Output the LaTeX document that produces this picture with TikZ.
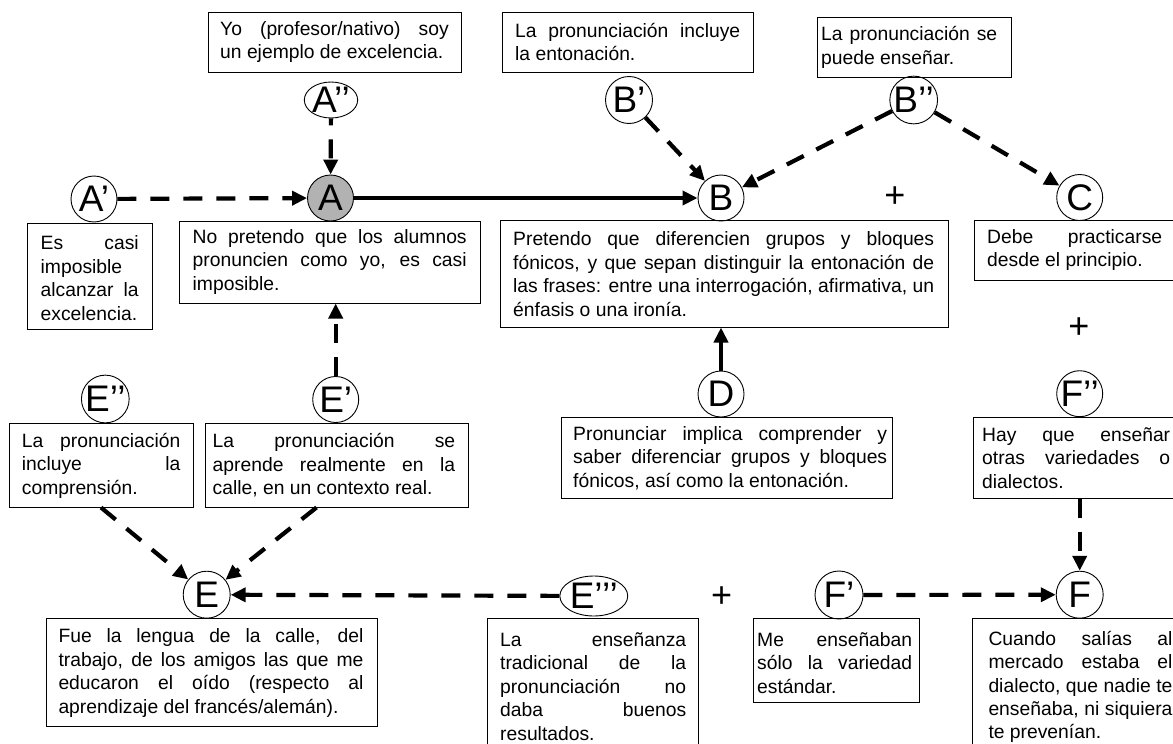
\documentclass[tikz,border=0pt]{standalone}
\usepackage{fontspec}
\setmainfont{Liberation Sans}
\usetikzlibrary{arrows.meta,shapes.geometric}
\setlength\parindent{0pt}
\setlength\parskip{0pt}
% one justified line / one line at natural width
\newcommand\jl[1]{\hbox to\hsize{#1}}
\newcommand\lf[1]{\hbox{#1}}
\newcommand\bodyfont{\fontsize{19.3}{23.4}\selectfont}
\newcommand\letterfont{\fontsize{37}{37}\selectfont}
\newcommand\plusfont{\fontsize{36}{36}\selectfont}
% framed text: name, x1, y1, x2, y2, text left, text width, text centre y, lines
\newcommand\tbox[9]{%
  \node[frame, minimum width={#4-#2}, minimum height={#5-#3}] (b#1) at ({(#2+#4)/2},{(#3+#5)/2}) {};
  \node[txt, anchor=west] (t#1) at (#6,#8) {\vbox{\hsize=#7pt #9}};}
\tikzset{
  frame/.style={draw, line width=1pt, inner sep=0pt},
  txt/.style={inner sep=0pt, font=\bodyfont},
  bub/.style={circle, draw, line width=0.9pt, minimum size=46pt, inner sep=0pt, font=\letterfont},
  oval/.style={ellipse, draw, line width=0.9pt, inner sep=0pt, font=\letterfont},
  conn/.style={line width=4.2pt, -{Triangle[length=15pt,width=14pt]}},
  dconn/.style={conn, dash pattern=on 19pt off 14pt},
  plus/.style={font=\plusfont, inner sep=0pt}
}
\begin{document}
\begin{tikzpicture}[x=1pt, y=-1pt]
\useasboundingbox (0,0) rectangle (1173,744);

% statements
\tbox{App}{208}{12}{461}{72}{220}{228.5}{42}{\jl{Yo (profesor/nativo) soy}\lf{un ejemplo de excelencia.}}
\tbox{Bp}{502}{12}{753}{72}{515}{225}{42}{\jl{La pronunciación incluye}\lf{la entonación.}}
\tbox{Bpp}{817}{17}{1011}{77}{821}{176}{47.5}{\jl{La pronunciación se}\lf{puede enseñar.}}
\tbox{Ap}{27}{223}{152}{329}{40.5}{98}{278}{\jl{Es casi}\lf{imposible}\jl{alcanzar la}\lf{excelencia.}}
\tbox{A}{179}{221}{480}{303}{192.5}{274}{262}{\jl{No pretendo que los alumnos}\jl{pronuncien como yo, es casi}\lf{imposible.}}
\tbox{B}{500}{220}{948}{327}{513}{421}{274}{\jl{Pretendo que diferencien grupos y bloques}\jl{fónicos, y que sepan distinguir la entonación de}\jl{las frases: entre una interrogación, afirmativa, un}\lf{énfasis o una ironía.}}
\tbox{C}{974}{220}{1186}{280}{987}{175}{250}{\jl{Debe practicarse}\lf{desde el principio.}}
\tbox{D}{561}{417}{892}{498}{573}{314}{458}{\jl{Pronunciar implica comprender y}\jl{saber diferenciar grupos y bloques}\lf{fónicos, así como la entonación.}}
\tbox{Epp}{9}{423}{193}{507}{21.7}{158.5}{465.5}{\jl{La pronunciación}\jl{incluye la}\lf{comprensión.}}
\tbox{Ep}{205}{423}{468}{507}{212.5}{242.5}{465.5}{\jl{La pronunciación se}\jl{aprende realmente en la}\lf{calle, en un contexto real.}}
\tbox{Fpp}{973}{417}{1190}{498}{982}{188}{458}{\jl{Hay que enseñar}\jl{otras variedades o}\lf{dialectos.}}
\tbox{E}{46}{618}{377}{726}{58.3}{305}{673}{\jl{Fue la lengua de la calle, del}\jl{trabajo, de los amigos las que me}\jl{educaron el oído (respecto al}\lf{aprendizaje del francés/alemán).}}
\tbox{Eppp}{487}{618}{698}{770}{500}{186}{686.5}{\jl{La enseñanza}\jl{tradicional de la}\jl{pronunciación no}\jl{daba buenos}\lf{resultados.}}
\tbox{Fp}{753}{618}{919}{702}{757}{155}{663}{\jl{Me enseñaban}\jl{sólo la variedad}\lf{estándar.}}
\tbox{F}{972}{618}{1190}{770}{988.3}{184}{687}{\jl{Cuando salías al}\jl{mercado estaba el}\jl{dialecto, que nadie te}\jl{enseñaba, ni siquiera}\lf{te prevenían.}}

% labels
\node[oval, minimum width=50pt, minimum height=35pt] (App) at (331,100) {A’’};
\node[bub, fill=black!30] (A) at (330.5,198) {A};
\node[bub] (Ap) at (94,199) {A’};
\node[bub] (B) at (721,198) {B};
\node[bub, minimum size=47pt] (Bp) at (629,100) {B’};
\node[bub] (Bpp) at (913.7,100) {B’’};
\node[bub] (C) at (1079.7,197.5) {C};
\node[bub] (D) at (721,394) {D};
\node[bub] (Epp) at (105.3,399) {E’’};
\node[bub] (Ep) at (335.7,399.5) {E’};
\node[bub, minimum size=47pt] (E) at (206.7,594.7) {E};
\node[oval, minimum width=66pt, minimum height=40pt] (Eppp) at (593.8,596) {E’’’};
\node[bub, minimum size=48pt] (Fp) at (839,595) {F’};
\node[bub] (Fpp) at (1079.7,393.7) {F’’};
\node[bub, minimum size=47pt] (F) at (1079.7,594.7) {F};

% plus signs
\node[plus] (p1) at (895,197) {+};
\node[plus] (p2) at (1079,328) {+};
\node[plus] (p3) at (721.7,597) {+};

% relations
\draw[dconn] (Ap) -- (A);
\draw[dconn, dash phase=12pt] (App) -- (A);
\draw[conn] (A) -- (B);
\draw[dconn] (Bp) -- (B);
\draw[dconn] (Bpp) -- (B);
\draw[dconn] (Bpp) -- (C);
\draw[conn] (D) -- (D.north |- bB.south);
\draw[dconn] (Ep) -- (Ep.north |- bA.south);
\draw[dconn] (bEpp.south) -- (E);
\draw[dconn] ([xshift=-20pt]bEp.south) -- (E);
\draw[dconn] (Eppp) -- (E);
\draw[dconn] (Fp) -- (F);
\draw[dconn] (bFpp.south -| F) -- (F);
\end{tikzpicture}
\end{document}
